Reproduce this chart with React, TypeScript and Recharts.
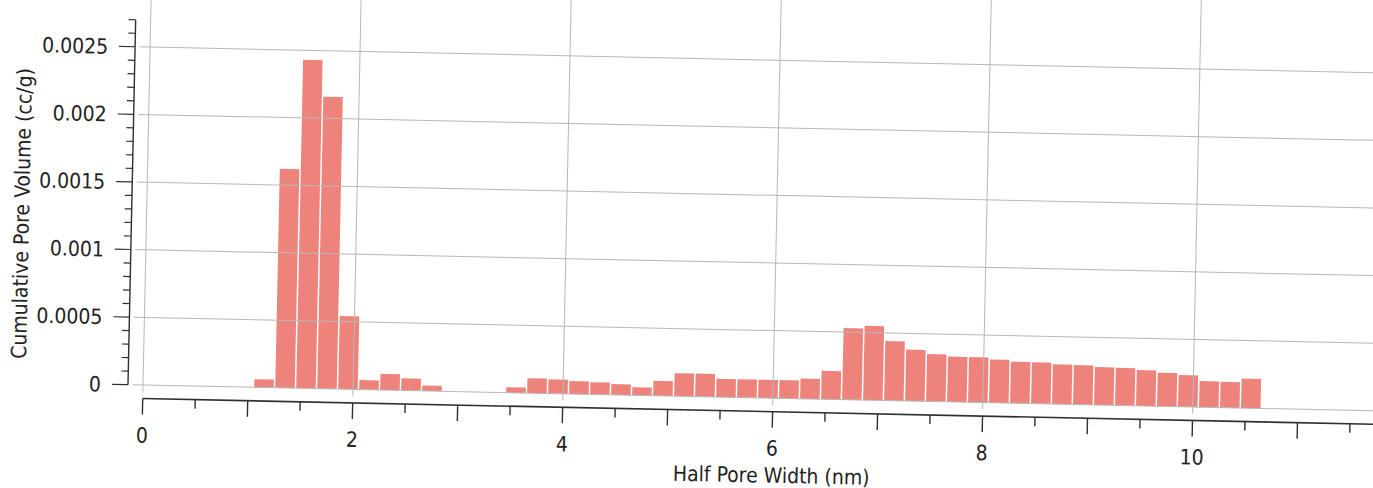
import { ComposedChart, Bar, XAxis, YAxis, ReferenceLine } from 'recharts';

// bin centres of the histogram (nm)
const halfPoreWidth = [
  1.15, 1.35, 1.55, 1.75, 1.95, 2.15, 2.35, 2.55, 2.75, 2.95, 3.15, 3.35,
  3.55, 3.75, 3.95, 4.15, 4.35, 4.55, 4.75, 4.95, 5.15, 5.35, 5.55, 5.75,
  5.95, 6.15, 6.35, 6.55, 6.75, 6.95, 7.15, 7.35, 7.55, 7.75, 7.95, 8.15,
  8.35, 8.55, 8.75, 8.95, 9.15, 9.35, 9.55, 9.75, 9.95, 10.15, 10.35, 10.55,
];

// pore volume per bin (cc/g)
const poreVolume = [
  0.00006, 0.00162, 0.00243, 0.00216, 0.00054, 0.00007, 0.00012, 0.00009, 0.00004, 0, 0, 0,
  0.00004, 0.00011, 0.000105, 0.000095, 0.00009, 0.00008, 0.00006, 0.00011, 0.00017, 0.00017, 0.000135, 0.000135,
  0.000135, 0.000135, 0.00015, 0.00021, 0.00053, 0.00055, 0.00044, 0.00038, 0.00035, 0.000335, 0.000335, 0.00032,
  0.000307, 0.000305, 0.000294, 0.000292, 0.00028, 0.000278, 0.000264, 0.000248, 0.000234, 0.000193, 0.00019, 0.000218,
];

const xTicks = [0, 0.5, 1, 1.5, 2, 2.5, 3, 3.5, 4, 4.5, 5, 5.5, 6, 6.5, 7, 7.5, 8, 8.5, 9, 9.5, 10, 10.5, 11, 11.5, 12, 12.5];
const xLabelValues = [0, 2, 4, 6, 8, 10];
const xTickLabels = ['0', '2', '4', '6', '8', '10'];

const yTicks = [
  0, 0.0001, 0.0002, 0.0003, 0.0004, 0.0005, 0.0006, 0.0007, 0.0008, 0.0009,
  0.001, 0.0011, 0.0012, 0.0013, 0.0014, 0.0015, 0.0016, 0.0017, 0.0018, 0.0019,
  0.002, 0.0021, 0.0022, 0.0023, 0.0024, 0.0025, 0.0026, 0.0027,
];
const yLabelValues = [0, 0.0005, 0.001, 0.0015, 0.002, 0.0025];
const yTickLabels = ['0', '0.0005', '0.001', '0.0015', '0.002', '0.0025'];

const xGrid = [0, 2, 4, 6, 8, 10, 12];
const yGrid = [0, 0.0005, 0.001, 0.0015, 0.002, 0.0025];

// layout (the scan is slightly tilted, so the whole chart is rotated a touch)
const PX_X = 105;
const PX_Y = 135200;
const X_MIN = -1 / 7;
const X_MAX = 12.6;
const Y_MIN = -0.0001;
const Y_MAX = 0.0031;
const Y_AXIS_TOP = 0.0027;
const Y_AXIS_W = 128;
const X_AXIS_H = 100;
const CHART_TOP = -40;
const ORIGIN_Y = 385;
const PLOT_W = (X_MAX - X_MIN) * PX_X;
const PLOT_H = (Y_MAX - Y_MIN) * PX_Y;
const MARGIN_TOP = ORIGIN_Y - Y_MAX * PX_Y - CHART_TOP;
const CHART_W = Y_AXIS_W + PLOT_W + 4;
const CHART_H = MARGIN_TOP + PLOT_H + X_AXIS_H;

const FONT = "'DejaVu Sans Condensed', 'DejaVu Sans', sans-serif";
const TEXT = '#222';
const AXIS = '#303030';
const GRID = '#b8b8b8';
const BAR = '#ee837b';

const data = halfPoreWidth.map((x, i) => ({ x, volume: poreVolume[i] }));

const near = (a: number, b: number) => Math.abs(a - b) < 1e-9;

const XTick = ({ x, y, payload }: any) => {
  const v = payload.value;
  const major = near(v, Math.round(v));
  const idx = xLabelValues.findIndex((l) => near(l, v));
  return (
    <g>
      <line x1={x} x2={x} y1={y} y2={y + (major ? 16 : 9)} stroke={AXIS} strokeWidth={1.4} />
      {idx >= 0 && (
        <text x={x} y={y + 44} textAnchor="middle" fill={TEXT} fontSize={21} fontFamily={FONT} fontStretch="condensed">
          {xTickLabels[idx]}
        </text>
      )}
    </g>
  );
};

const YTick = ({ x, y, payload }: any) => {
  const v = payload.value;
  const idx = yLabelValues.findIndex((l) => near(l, v));
  const major = idx >= 0;
  return (
    <g>
      <line x1={x - (major ? 16 : 7)} x2={x} y1={y} y2={y} stroke={AXIS} strokeWidth={1.2} />
      {major && (
        <text x={x - 27} y={y + 7.5} textAnchor="end" fill={TEXT} fontSize={21} fontFamily={FONT} fontStretch="condensed">
          {yTickLabels[idx]}
        </text>
      )}
    </g>
  );
};

const XTitle = ({ viewBox }: any) => {
  if (!viewBox) return null;
  return (
    <text
      x={viewBox.x + (6 - X_MIN) * PX_X}
      y={viewBox.y + 71}
      textAnchor="middle"
      fill={TEXT}
      fontSize={21}
      fontFamily={FONT}
      fontStretch="condensed"
    >
      Half Pore Width (nm)
    </text>
  );
};

const YTitle = ({ viewBox }: any) => {
  if (!viewBox) return null;
  const x = 25.5;
  const y = viewBox.y + (Y_MAX - 0.00125) * PX_Y;
  return (
    <text
      x={x}
      y={y}
      transform={`rotate(-90, ${x}, ${y})`}
      textAnchor="middle"
      fill={TEXT}
      fontSize={21}
      fontFamily={FONT}
      fontStretch="condensed"
    >
      Cumulative Pore Volume (cc/g)
    </text>
  );
};

export default function App() {
  return (
    <div style={{ position: 'fixed', left: 0, top: 0, width: 1373, height: 488, overflow: 'hidden', background: '#fff' }}>
      <div
        style={{
          position: 'absolute',
          left: 0,
          top: 0,
          width: 1373,
          height: 488,
          transform: 'rotate(1.2deg)',
          transformOrigin: `143px ${ORIGIN_Y}px`,
        }}
      >
        <div style={{ position: 'absolute', left: 0, top: CHART_TOP }}>
          <ComposedChart
            width={CHART_W}
            height={CHART_H}
            data={data}
            margin={{ top: MARGIN_TOP, right: 4, bottom: 0, left: 0 }}
          >
            {yGrid.map((v) => (
              <ReferenceLine
                key={`h${v}`}
                segment={[{ x: -0.1, y: v }, { x: X_MAX, y: v }]}
                stroke={GRID}
                strokeWidth={1}
                ifOverflow="visible"
              />
            ))}
            {xGrid.map((v) => (
              <ReferenceLine
                key={`v${v}`}
                segment={[{ x: v, y: -0.00005 }, { x: v, y: Y_MAX }]}
                stroke={GRID}
                strokeWidth={1}
                ifOverflow="visible"
              />
            ))}
            <XAxis
              dataKey="x"
              type="number"
              domain={[X_MIN, X_MAX]}
              allowDataOverflow
              ticks={xTicks}
              interval={0}
              tick={<XTick />}
              tickLine={false}
              axisLine={false}
              tickSize={0}
              tickMargin={0}
              height={X_AXIS_H}
              label={<XTitle />}
            />
            <YAxis
              type="number"
              domain={[Y_MIN, Y_MAX]}
              allowDataOverflow
              ticks={yTicks}
              interval={0}
              tick={<YTick />}
              tickLine={false}
              axisLine={false}
              tickSize={0}
              tickMargin={0}
              width={Y_AXIS_W}
              label={<YTitle />}
            />
            <Bar dataKey="volume" fill={BAR} barSize={19.5} isAnimationActive={false} />
            <ReferenceLine
              segment={[{ x: X_MIN, y: 0 }, { x: X_MIN, y: Y_AXIS_TOP }]}
              stroke={AXIS}
              strokeWidth={1.4}
              ifOverflow="visible"
            />
            <ReferenceLine
              segment={[{ x: 0, y: Y_MIN }, { x: X_MAX, y: Y_MIN }]}
              stroke={AXIS}
              strokeWidth={1.6}
              ifOverflow="visible"
            />
          </ComposedChart>
        </div>
      </div>
    </div>
  );
}
